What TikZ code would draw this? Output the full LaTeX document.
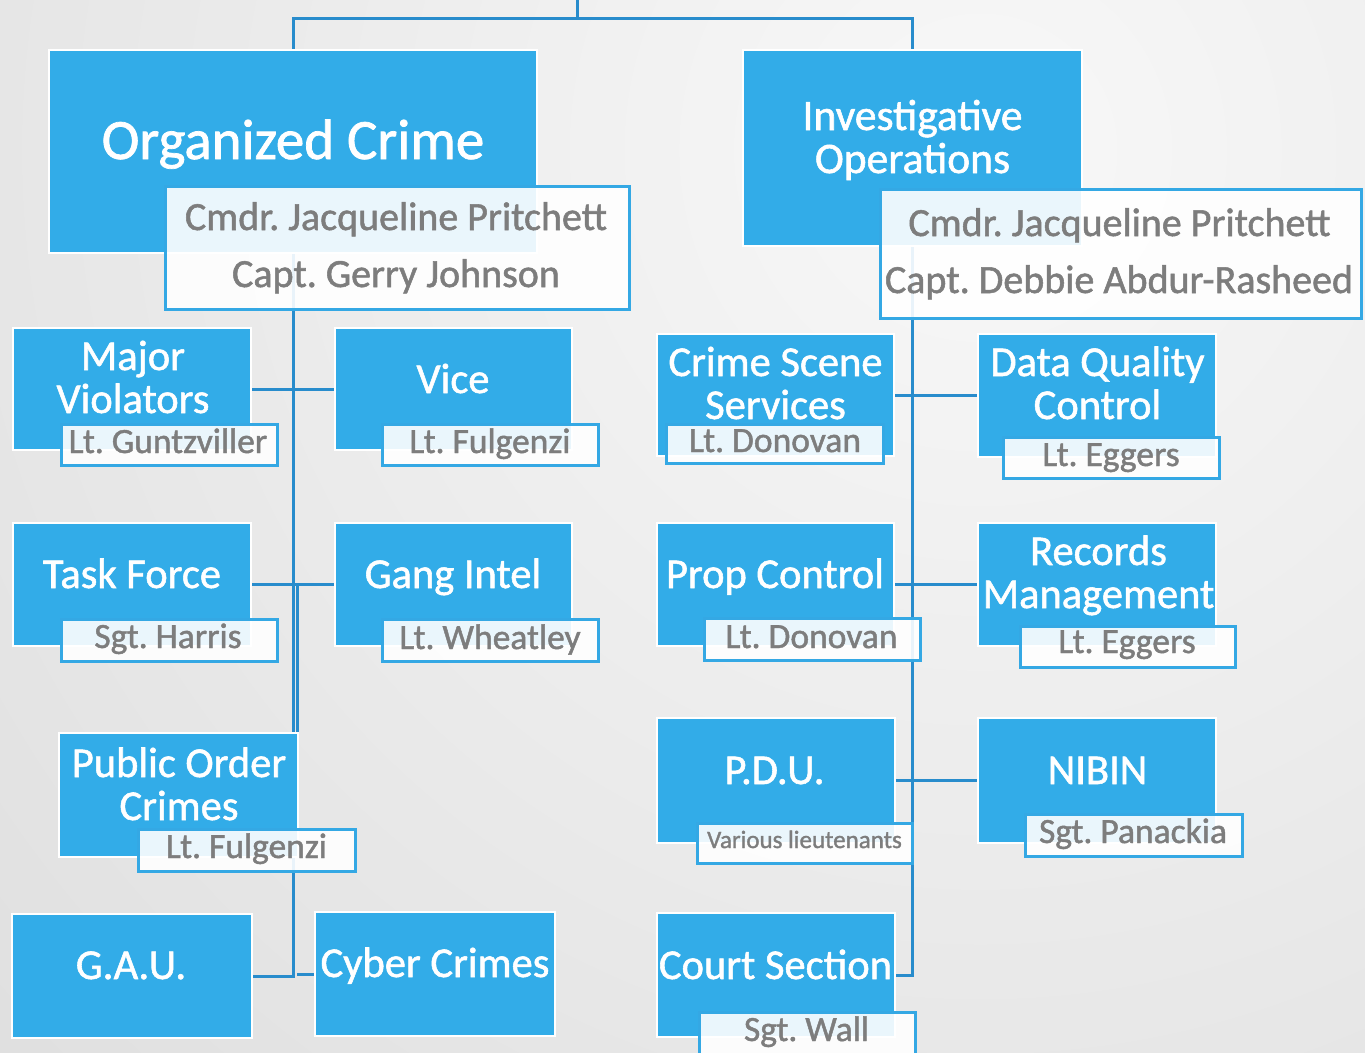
\documentclass[tikz,border=0pt]{standalone}
\usepackage{fontspec}
\setmainfont[FakeBold=1.3]{Carlito}
\definecolor{bblue}{RGB}{50,172,232}
\definecolor{lblue}{RGB}{40,140,204}
\definecolor{sborder}{RGB}{52,168,228}
\definecolor{tgray}{RGB}{125,125,125}
\definecolor{bgin}{RGB}{248,248,248}
\definecolor{bgout}{RGB}{206,206,206}
\pgfdeclarelayer{bglayer}
\pgfdeclarelayer{linelayer}
\pgfsetlayers{bglayer,linelayer,main}
\tikzset{
  conn/.style={draw=lblue, line width=3},
  bbox/.style={fill=bblue, draw=white, line width=2.5, inner sep=0},
  sbox/.style={fill=white, fill opacity=0.9, draw=sborder, line width=3, inner sep=0},
  ttl/.style={text=white, align=center, font=\fontsize{42.5}{43}\selectfont, inner sep=0, anchor=base},
  sublbl/.style={text=tgray, font=\fontsize{35.5}{37}\selectfont, inner sep=0, anchor=base},
  bigttl/.style={text=white, font=\fontsize{57}{60}\selectfont, inner sep=0, anchor=base},
  headlbl/.style={text=tgray, font=\fontsize{40}{43}\selectfont, inner sep=0, anchor=base},
}
\newcommand\BlueBox[5]{\node[bbox,minimum width={#4-#2},minimum height={#5-#3}] (#1) at ({(#2+#4)/2},{(#3+#5)/2}) {};}
\newcommand\SubBox[5]{\node[sbox,minimum width={#4-#2},minimum height={#5-#3}] (#1) at ({(#2+#4)/2},{(#3+#5)/2}) {};}
\begin{document}
\frenchspacing
\begin{tikzpicture}[x=1pt,y=-1pt]
\useasboundingbox (0,0) rectangle (1365,1052);
\begin{pgfonlayer}{bglayer}
\begin{scope}
  \clip (0,0) rectangle (1365,1052);
  \shade[inner color=bgin, outer color=bgout] (980,150) circle (2300);
\end{scope}
\end{pgfonlayer}
% ---------- blue boxes ----------
\BlueBox{oc}{49}{50}{537}{253}
\BlueBox{io}{743}{50}{1082}{246}
\BlueBox{mv}{13}{328}{251}{450}
\BlueBox{vice}{335}{328}{572}{450}
\BlueBox{tf}{13}{523}{251}{646}
\BlueBox{gi}{335}{523}{572}{646}
\BlueBox{poc}{59}{733}{298}{857}
\BlueBox{gau}{12}{914}{252}{1038}
\BlueBox{cyber}{315}{912}{555}{1036}
\BlueBox{css}{657}{334}{894}{456}
\BlueBox{dqc}{978}{334}{1216}{457}
\BlueBox{pc}{657}{523}{894}{646}
\BlueBox{rm}{978}{523}{1216}{646}
\BlueBox{pdu}{657}{718}{895}{843}
\BlueBox{nibin}{978}{718}{1216}{843}
\BlueBox{court}{657}{913}{895}{1037}
% ---------- titles (base = baseline of last line) ----------
\node[bigttl] (ocT) at (293,159) {Organized Crime};
\node[ttl,font=\fontsize{43.5}{43}\selectfont] (ioT) at (912.5,173) {Investigative\\Operations};
\node[ttl] (mvT) at (133,413) {Major\\Violators};
\node[ttl] (viceT) at (453,393) {Vice};
\node[ttl] (tfT) at (132,588) {Task Force};
\node[ttl] (giT) at (453,588) {Gang Intel};
\node[ttl] (pocT) at (179,820) {Public Order\\Crimes};
\node[ttl] (gauT) at (131,979) {G.A.U.};
\node[ttl] (cyberT) at (435,977) {Cyber Crimes};
\node[ttl] (cssT) at (775.5,419) {Crime Scene\\Services};
\node[ttl] (dqcT) at (1097.5,419) {Data Quality\\Control};
\node[ttl] (pcT) at (775,588) {Prop Control};
\node[ttl] (rmT) at (1098.5,608) {Records\\Management};
\node[ttl] (pduT) at (774.5,784) {P.D.U.};
\node[ttl] (nibinT) at (1097.5,784) {NIBIN};
\node[ttl] (courtT) at (775.5,979) {Court Section};
% ---------- sub boxes ----------
\SubBox{ocS}{165}{186}{629}{309}
\SubBox{ioS}{880}{189}{1361}{318}
\SubBox{mvS}{61}{424}{277}{465}
\SubBox{viceS}{382}{424}{598}{465}
\SubBox{tfS}{61}{619}{277}{661}
\SubBox{giS}{382}{619}{598}{661}
\SubBox{pocS}{138}{829}{355}{871}
\SubBox{cssS}{666}{424}{883}{463}
\SubBox{dqcS}{1003}{437}{1219}{478}
\SubBox{pcS}{704}{618}{920}{660}
\SubBox{rmS}{1020}{626}{1235}{667}
\SubBox{pduS}{697}{823}{912}{863}
\SubBox{nibinS}{1025}{814}{1242}{856}
\SubBox{courtS}{699}{1012}{915}{1062}
% ---------- sub labels ----------
\node[headlbl] (ocA) at (396,230) {Cmdr. Jacqueline Pritchett};
\node[headlbl] (ocB) at (396,287) {Capt. Gerry Johnson};
\node[headlbl] (ioA) at (1119.5,236) {Cmdr. Jacqueline Pritchett};
\node[headlbl] (ioB) at (1119,293) {Capt. Debbie Abdur-Rasheed};
\node[sublbl] (mvL) at (168,453) {Lt. Guntzviller};
\node[sublbl] (viceL) at (490,453) {Lt. Fulgenzi};
\node[sublbl] (tfL) at (168,648) {Sgt. Harris};
\node[sublbl] (giL) at (490,649) {Lt. Wheatley};
\node[sublbl] (pocL) at (246.5,858) {Lt. Fulgenzi};
\node[sublbl] (cssL) at (775,452) {Lt. Donovan};
\node[sublbl] (dqcL) at (1111,466) {Lt. Eggers};
\node[sublbl] (pcL) at (811.5,648) {Lt. Donovan};
\node[sublbl] (rmL) at (1127,653) {Lt. Eggers};
\node[sublbl,font=\fontsize{25}{27}\selectfont] (pduL) at (804.5,848) {Various lieutenants};
\node[sublbl] (nibinL) at (1133,843) {Sgt. Panackia};
\node[sublbl] (courtL) at (806.5,1041) {Sgt. Wall};
% ---------- connectors ----------
\begin{pgfonlayer}{linelayer}
\coordinate (root) at (577,0);
\coordinate (split) at (577,18);
\draw[conn] (root) -- (split) -| (oc.north);
\draw[conn] (split) -| (io.north);
\draw[conn] (oc.south) -- (oc.south |- gau.east) -- (gau.east);
\draw[conn] ([xshift=4]oc.south |- tf.east) -- ([xshift=4]oc.south |- poc.north);
\draw[conn] ([xshift=4]oc.south |- cyber.west) -- (cyber.west);
\draw[conn] (mv.east) -- (vice.west);
\draw[conn] (tf.east) -- (gi.west);
\draw[conn] (io.south) -- (io.south |- court.east) -- (court.east);
\draw[conn] (css.east) -- (dqc.west |- css.east);
\draw[conn] (pc.east) -- (rm.west);
\draw[conn] (pdu.east) -- (nibin.west);
\end{pgfonlayer}
\end{tikzpicture}
\end{document}
